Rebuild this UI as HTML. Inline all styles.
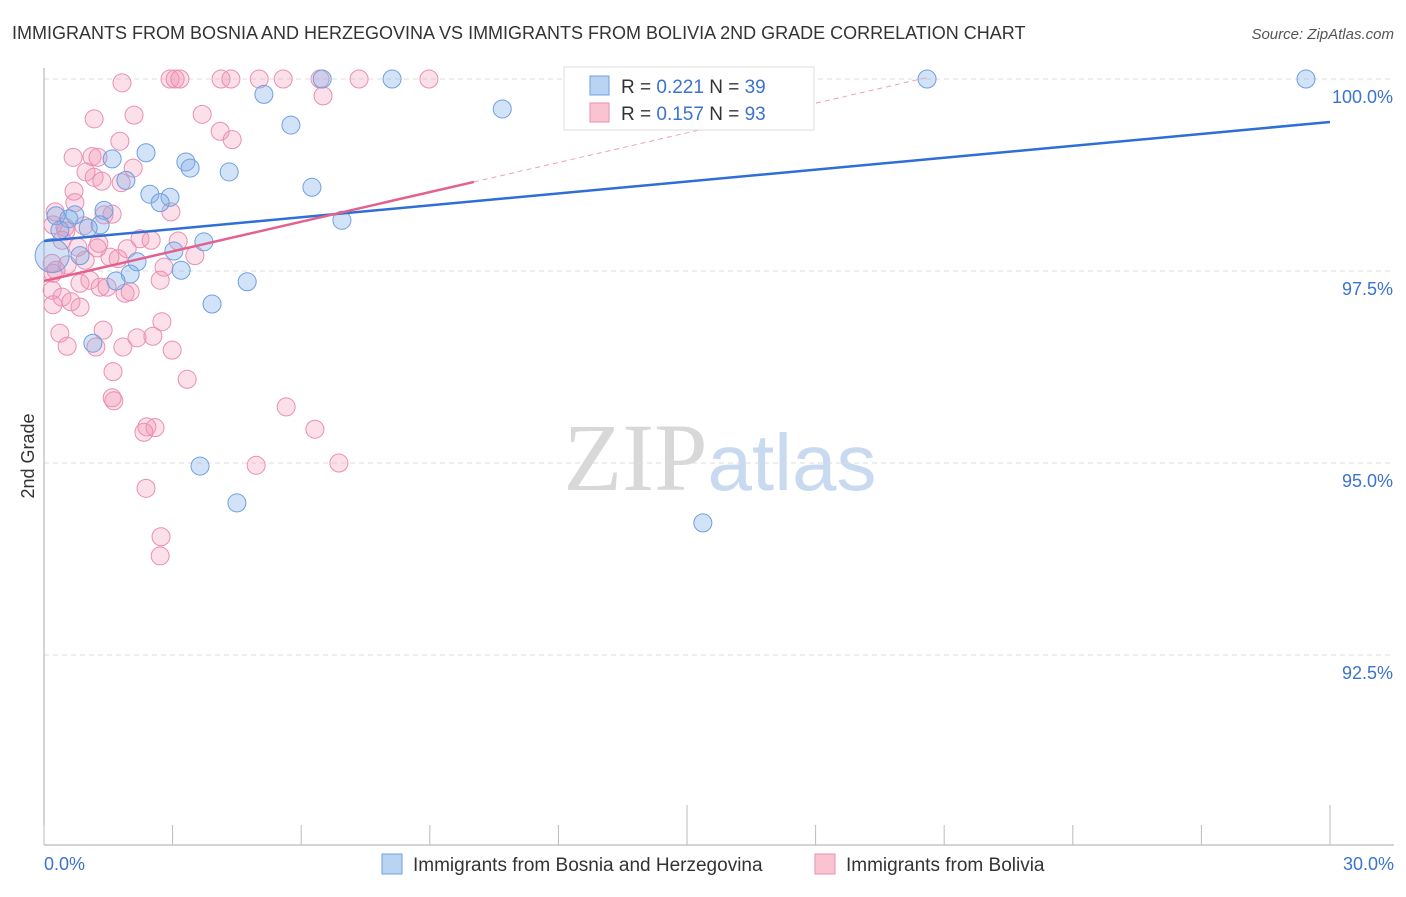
<!DOCTYPE html>
<html><head><meta charset="utf-8"><style>
body{margin:0;background:#fff;font-family:"Liberation Sans",sans-serif}
svg text{font-family:"Liberation Sans",sans-serif}
</style></head><body>
<svg id="chart" width="1406" height="892" xmlns="http://www.w3.org/2000/svg">
<text x="12" y="39" font-size="18" fill="#333">IMMIGRANTS FROM BOSNIA AND HERZEGOVINA VS IMMIGRANTS FROM BOLIVIA 2ND GRADE CORRELATION CHART</text>
<text x="1394" y="39" font-size="15" fill="#555" text-anchor="end" font-style="italic">Source: ZipAtlas.com</text>
<text x="720" y="490" font-size="96" fill="#ddd" text-anchor="middle"><tspan font-family="Liberation Serif" fill="#d8d8d8">ZIP</tspan><tspan fill="#c9daf0" font-size="80">atlas</tspan></text>
<text transform="translate(34,456) rotate(-90)" font-size="18" fill="#333" text-anchor="middle">2nd Grade</text>
<g id="grid"></g><g id="axes"></g><g id="pts"></g><g id="trends"></g>
<g>
<rect x="564" y="67" width="250" height="63" fill="#fff" stroke="#ddd"/>
<rect x="590" y="76" width="19" height="19" fill="#b9d3f3" stroke="#6f9fe0"/>
<text x="621" y="93" font-size="19" fill="#333">R = <tspan fill="#3a73d0">0.221</tspan>   N = <tspan fill="#3a73d0">39</tspan></text>
<rect x="590" y="103" width="19" height="19" fill="#f9c3d4" stroke="#ea8fb0"/>
<text x="621" y="120" font-size="19" fill="#333">R = <tspan fill="#3a73d0">0.157</tspan>   N = <tspan fill="#3a73d0">93</tspan></text>
</g>
<g>
<rect x="382" y="854" width="20" height="20" fill="#b9d3f3" stroke="#6f9fe0"/>
<text x="413" y="871" font-size="19" fill="#333">Immigrants from Bosnia and Herzegovina</text>
<rect x="815" y="854" width="20" height="20" fill="#f9c3d4" stroke="#ea8fb0"/>
<text x="846" y="871" font-size="19" fill="#333">Immigrants from Bolivia</text>
</g>
</svg>
<script>
const xTicks=[0,3,6,9,12,15,18,21,24,27,30];
const yTicks=[100,97.5,95,92.5];
const yTickLabels=["100.0%","97.5%","95.0%","92.5%"];
const xEndLabels=["0.0%","30.0%"];
const bosniaX=[6.49,8.12,20.6,29.44,5.13,10.69,5.76,2.38,1.59,3.31,3.41,4.32,1.91,6.25,2.47,2.94,2.71,1.40,0.28,0.58,6.95,1.31,0.37,1.03,3.73,3.03,0.19,0.84,2.17,3.20,2.01,1.68,4.74,3.92,1.14,3.64,4.50,15.37,0.72];
const bosniaY=[100,100,100,100,99.80,99.61,99.40,99.04,98.96,98.92,98.84,98.79,98.68,98.59,98.50,98.46,98.39,98.29,98.22,98.18,98.16,98.10,98.03,98.06,97.88,97.76,97.70,97.70,97.62,97.51,97.46,97.37,97.36,97.07,96.56,94.96,94.48,94.22,98.23];
const boliviaX=[1.82,2.94,3.06,3.17,4.13,4.36,5.02,5.58,6.44,7.35,8.98,6.51,1.17,2.10,3.69,1.77,4.11,4.39,0.68,1.12,1.26,0.98,2.08,1.17,1.35,1.80,0.70,0.72,0.26,1.40,2.96,0.49,0.21,2.24,2.50,3.13,1.28,0.79,3.52,1.94,1.54,1.73,0.19,0.54,0.21,2.80,0.96,1.07,0.84,1.31,1.47,0.19,1.89,0.42,0.21,0.63,0.84,2.75,0.37,1.38,0.54,1.21,1.84,2.17,2.54,2.99,1.61,3.34,1.59,1.63,5.65,2.40,2.59,2.33,6.32,4.95,6.88,2.38,2.73,2.71,0.42,1.24,2.01,1.59,0.51,2.71,0.93,0.28];
const boliviaY=[99.95,100,100,100,100,100,100,100,100,100,100,99.78,99.48,99.53,99.54,99.19,99.32,99.21,98.98,98.99,98.98,98.79,98.84,98.72,98.67,98.65,98.54,98.39,98.27,98.23,98.27,98.07,98.10,97.92,97.90,97.89,97.86,97.81,97.70,97.79,97.68,97.66,97.60,97.58,97.47,97.55,97.64,97.38,97.34,97.29,97.29,97.25,97.21,97.16,97.06,97.10,97.03,96.84,96.69,96.73,96.52,96.51,96.51,96.63,96.65,96.47,96.19,96.09,95.85,95.81,95.73,95.47,95.46,95.40,95.44,94.97,95.00,94.67,94.04,93.79,97.90,97.80,97.23,98.24,98.02,97.38,98.09,97.51];
const bosniaTrend=[97.89,99.44];
const boliviaTrend=[97.37,0.1286];
const boliviaSolidEnd=10.03, boliviaDashEnd=20.6;
const sx=v=>44+v/30*1286;
const sy=v=>79+(100-v)*76.8;
const NS="http://www.w3.org/2000/svg";
function mk(p,tag,a){const e=document.createElementNS(NS,tag);for(const k in a)e.setAttribute(k,a[k]);p.appendChild(e);return e;}
const grid=document.getElementById('grid'),axes=document.getElementById('axes'),pts=document.getElementById('pts'),tr=document.getElementById('trends');
yTicks.forEach((t,i)=>{
 const l=mk(grid,'line',{x1:44,x2:1394,y1:sy(t),y2:sy(t),stroke:'#ddd','stroke-dasharray':'5,4'});
 
 
 const tx=mk(grid,'text',{x:1393,y:sy(t)+24,'font-size':18,fill:'#3a73d0','text-anchor':'end'});
 tx.textContent=yTickLabels[i];
 
 
});
const ya=mk(axes,'line',{x1:44,x2:44,y1:68,y2:845,stroke:'#aaa'});


const xa=mk(axes,'line',{x1:44,x2:1394,y1:845,y2:845,stroke:'#aaa'});


xTicks.forEach(t=>{
 const long=(t===15||t===30);
 const l=mk(axes,'line',{x1:sx(t),x2:sx(t),y1:long?805:825,y2:845,stroke:'#bbb'});
 
 
});
[[0,'start',xEndLabels[0]],[30,'end',xEndLabels[1]]].forEach(d=>{
 const tx=mk(axes,'text',{x:d[0]===0?44:1394,y:870,'font-size':18,fill:'#3a73d0','text-anchor':d[1]});
 tx.textContent=d[2];
 
 
});
boliviaX.forEach((x,i)=>{
 const c=mk(pts,'circle',{cx:sx(x),cy:sy(boliviaY[i]),r:9,fill:'rgba(242,150,182,0.3)',stroke:'#ea8fb0','stroke-width':1});
 
 
});
bosniaX.forEach((x,i)=>{
 const c=mk(pts,'circle',{cx:sx(x),cy:sy(bosniaY[i]),r:i===26?17:9,fill:'rgba(130,175,232,0.35)',stroke:'#6f9fe0','stroke-width':1});
 
 
});
const bl=mk(tr,'line',{x1:sx(0),y1:sy(bosniaTrend[0]),x2:sx(30),y2:sy(bosniaTrend[1]),stroke:'#2d6fd6','stroke-width':2.5});


const pl=mk(tr,'line',{x1:sx(0),y1:sy(boliviaTrend[0]),x2:sx(boliviaSolidEnd),y2:sy(boliviaTrend[0]+boliviaTrend[1]*boliviaSolidEnd),stroke:'#e4608d','stroke-width':2.5});


const pd=mk(tr,'line',{x1:sx(boliviaSolidEnd),y1:sy(boliviaTrend[0]+boliviaTrend[1]*boliviaSolidEnd),x2:sx(boliviaDashEnd),y2:sy(boliviaTrend[0]+boliviaTrend[1]*boliviaDashEnd),stroke:'#eea0bb','stroke-width':1,'stroke-dasharray':'5,4'});


</script>
</body></html>
